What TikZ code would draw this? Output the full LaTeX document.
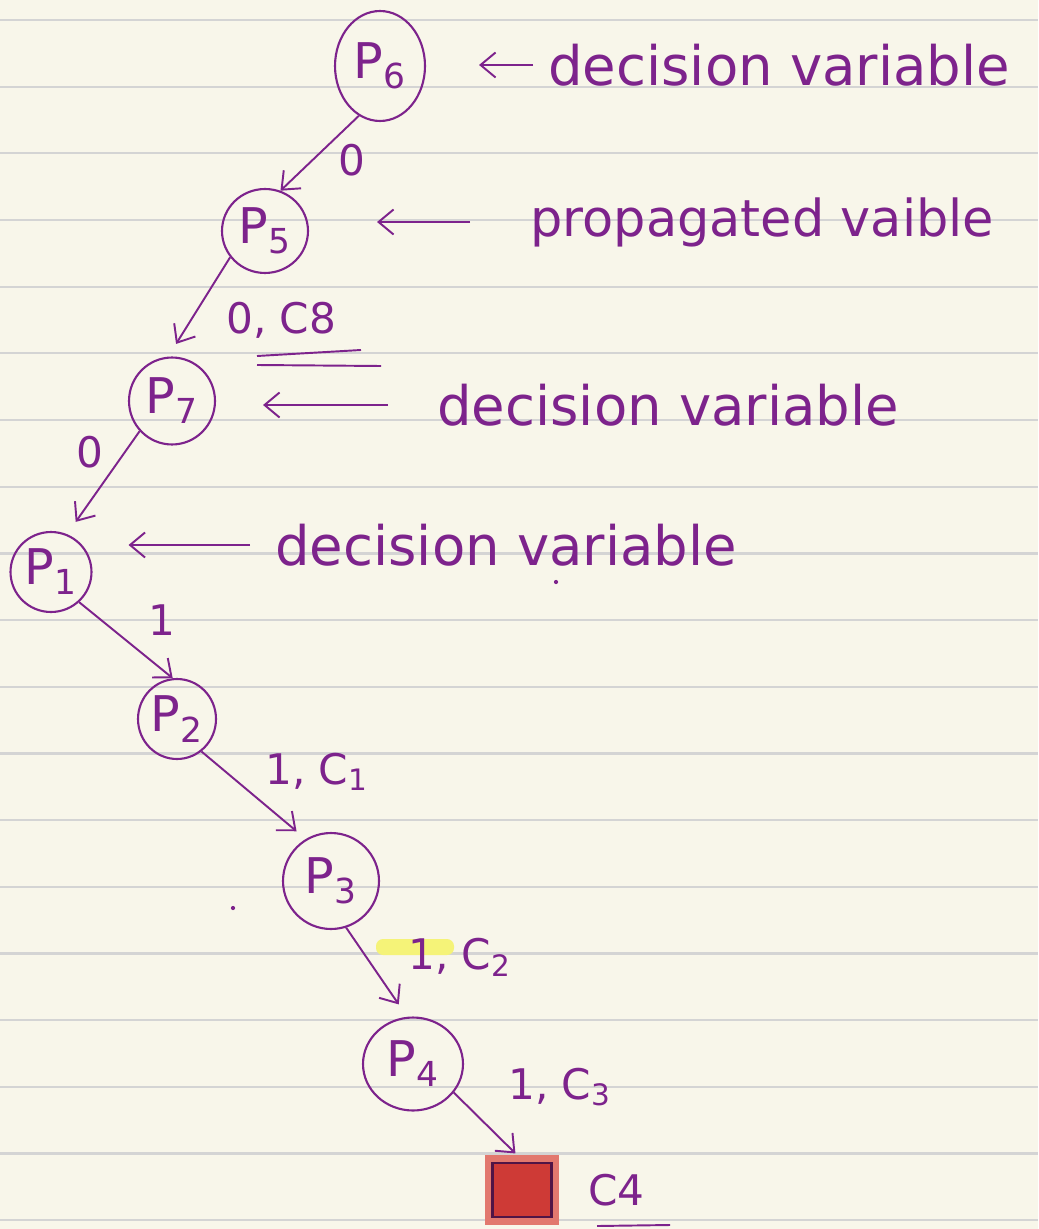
\documentclass[tikz,border=0pt]{standalone}
\usepackage{fontspec}
\setmainfont{DejaVu Sans}
\usetikzlibrary{shapes.geometric, arrows.meta, positioning, calc}
\definecolor{ink}{RGB}{125,35,140}
\definecolor{paper}{RGB}{248,246,234}
\definecolor{ruling}{RGB}{212,212,212}
\definecolor{leafred}{RGB}{206,58,54}
\definecolor{leafglow}{RGB}{226,120,110}
\definecolor{leafline}{RGB}{80,20,70}
\definecolor{marker}{RGB}{245,243,120}
\tikzset{
  var/.style   = {ellipse, draw=ink, line width=1.2pt, inner sep=0pt,
                  text=ink, font=\fontsize{28}{30}\selectfont},
  note/.style  = {anchor=west, text=ink, inner sep=0pt,
                  font=\fontsize{31}{36}\selectfont},
  lab/.style   = {anchor=west, text=ink, inner sep=0pt,
                  font=\fontsize{24}{28}\selectfont},
  flow/.style  = {-{Straight Barb[length=3mm, width=5mm]}, draw=ink,
                  line width=1.1pt},
  leaf/.style  = {rectangle, draw=leafline, line width=1.3pt, fill=leafred,
                  minimum width=1.18cm, minimum height=1.08cm,
                  preaction={draw=leafglow, line width=9pt, rounded corners=8pt}},
  rule/.style  = {draw=ruling, line width=1.3pt},
  stroke/.style = {draw=ink, line width=1.1pt},
}

\begin{document}
\begin{tikzpicture}[x=0.02cm, y=-0.02cm]
  \useasboundingbox[fill=paper] (0,0) rectangle (1038,1229);
  % ruled page
  \foreach \k in {0,...,18}
    \draw[rule] (0,{20+66.67*\k}) -- (1038,{20+66.67*\k});

  % variables of the trail
  \node[var, minimum width=1.8cm, minimum height=2.2cm] (p6) at (380,66) {P\textsubscript{6}};
  \node[var, minimum width=1.72cm, minimum height=1.68cm] (p5) at (265,231) {P\textsubscript{5}};
  \node[var, minimum width=1.72cm, minimum height=1.74cm] (p7) at (172,401) {P\textsubscript{7}};
  \node[var, minimum width=1.62cm, minimum height=1.6cm] (p1) at (51,572) {P\textsubscript{1}};
  \node[var, minimum width=1.56cm, minimum height=1.6cm] (p2) at (177,719) {P\textsubscript{2}};
  \node[var, minimum width=1.92cm, minimum height=1.92cm] (p3) at (331,881) {P\textsubscript{3}};
  \node[var, minimum width=2.0cm, minimum height=1.86cm] (p4) at (413,1064) {P\textsubscript{4}};
  \node[leaf] (conflict) at (522,1190) {};

  \draw[flow] (p6.247) -- (p5.69);
  \draw[flow, shorten >=0.3cm] (p5.217) -- (p7.95);
  \draw[flow, shorten >=0.3cm] (p7.223) -- (p1.67);
  \draw[flow] (p1.313) -- (p2.96);
  \draw[flow, shorten >=0.24cm] (p2.307) -- (p3.121);
  \draw[flow, shorten >=0.3cm] (p3.288) -- (p4.97);
  \draw[flow, shorten >=0.24cm] (p4.325) -- (conflict.86);

  % edge labels
  \fill[marker, rounded corners=4pt] (376,939) rectangle (454,955);
  \node[lab] (l65) at (338,160) {0};
  \node[lab] (l57) at (226,320) {0, C8};
  \node[lab] (l71) at (76,452) {0};
  \node[lab] (l12) at (148,620) {1};
  \node[lab] (l23) at (265,772) {1, C\textsubscript{1}};
  \node[lab] (l34) at (408,957) {1, C\textsubscript{2}};
  \node[lab] (l4c) at (508,1087) {1, C\textsubscript{3}};
  \node[lab] (c4) at (588,1190) {C4};
  \draw[stroke] (257,356) -- (361,350);
  \draw[stroke] (257,365) -- (381,366);
  \draw[stroke] (597,1226) -- (670,1225);

  % notes
  \node[note] (n6) at (548,65) {decision variable};
  \node[note, font=\fontsize{29}{34}\selectfont] (n5) at (530,222) {propagated vaible};
  \node[note] (n7) at (437,405) {decision variable};
  \node[note] (n1) at (275,545) {decision variable};
  \draw[flow, shorten <=0.3cm, shorten >=1.06cm] (n6.west) -- (n6.west -| p6.east);
  \draw[flow, shorten <=1.2cm, shorten >=1.36cm] (n5.west) -- (n5.west -| p5.east);
  \draw[flow, shorten <=0.98cm, shorten >=0.94cm] (n7.west) -- (n7.west -| p7.east);
  \draw[flow, shorten <=0.5cm, shorten >=0.72cm] (n1.west) -- (n1.west -| p1.east);

  \fill[ink] (233,908) circle (1.2pt);
  \fill[ink] (556,582) circle (1.2pt);
\end{tikzpicture}
\end{document}
